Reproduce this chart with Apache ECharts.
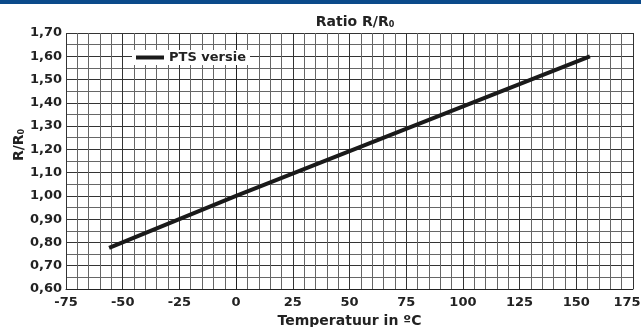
<!DOCTYPE html>
<html>
<head>
<meta charset="utf-8">
<script src="https://cdn.jsdelivr.net/npm/echarts@6/dist/echarts.min.js"></script>
<style>
  html, body { margin: 0; padding: 0; background: #fff; }
  #bar { position: absolute; left: 0; top: 0; width: 641px; height: 4px; background: #0b4a8a; }
  #chart { width: 641px; height: 327px; }
</style>
</head>
<body>
<div id="chart"></div>
<div id="bar"></div>
<script>
// data
const temps = [-56, 0, 156];
const ratios = [0.777, 1.0, 1.6];
const seriesName = 'PTS versie';

const FONT = 'DejaVu Sans';
const fmt = v => v.toFixed(2).replace('.', ',');

const chart = echarts.init(document.getElementById('chart'), null, { renderer: 'canvas' });

chart.setOption({
    animation: false,
    textStyle: { fontFamily: FONT },
    title: {
        text: 'Ratio R/R{s|0}',
        left: 350,
        textAlign: 'center',
        top: 10,
        textStyle: {
            fontFamily: FONT, fontSize: 14, fontWeight: 'bold', color: '#222',
            rich: { s: { fontSize: 8, fontWeight: 'bold', verticalAlign: 'bottom', padding: [6, 0, 0, 0] } }
        }
    },
    legend: {
        left: 132, top: 50,
        padding: [1, 4, 1, 4],
        backgroundColor: '#fff',
        icon: 'rect',
        itemWidth: 28, itemHeight: 4,
        itemGap: 4,
        textStyle: { fontFamily: FONT, fontSize: 13, fontWeight: 'bold', color: '#222' },
        data: [seriesName]
    },
    grid: { left: 66, right: 8, top: 33, bottom: 38, outerBoundsMode: 'none' },
    xAxis: {
        type: 'value',
        min: -75, max: 175, interval: 25,
        name: 'Temperatuur in ºC',
        nameLocation: 'middle',
        nameGap: 23,
        nameTextStyle: { fontFamily: FONT, fontSize: 14, fontWeight: 'bold', color: '#222' },
        axisLine: { lineStyle: { color: '#222', width: 1 } },
        axisTick: { show: false },
        axisLabel: {
            fontFamily: FONT, fontSize: 13, fontWeight: 'bold', color: '#222', margin: 7,
            formatter: v => v === 175 ? '{r|175}' : String(v),
            rich: { r: { fontFamily: FONT, fontSize: 13, fontWeight: 'bold', color: '#222', padding: [0, 12, 0, 0] } }
        },
        splitLine: { lineStyle: { color: '#333', width: 1 } },
        minorTick: { show: false, splitNumber: 5 },
        minorSplitLine: { show: true, lineStyle: { color: '#666', width: 1 } }
    },
    yAxis: {
        type: 'value',
        min: 0.6, max: 1.7, interval: 0.1,
        name: 'R/R{s|0}',
        nameLocation: 'middle',
        nameRotate: 90,
        nameGap: 40,
        nameMoveOverlap: false,
        nameTextStyle: {
            fontFamily: FONT, fontSize: 14, fontWeight: 'bold', color: '#222',
            padding: [0, 0, 0, 32],
            rich: { s: { fontSize: 8, fontWeight: 'bold', verticalAlign: 'bottom', padding: [6, 0, 0, 0] } }
        },
        axisLine: { show: true, lineStyle: { color: '#222', width: 1 } },
        axisTick: { show: false },
        axisLabel: { fontFamily: FONT, fontSize: 13, fontWeight: 'bold', color: '#222', margin: 4, formatter: fmt },
        splitLine: { lineStyle: { color: '#333', width: 1 } },
        minorTick: { show: false, splitNumber: 2 },
        minorSplitLine: { show: true, lineStyle: { color: '#666', width: 1 } }
    },
    series: [{
        name: seriesName,
        type: 'line',
        data: temps.map((t, i) => [t, ratios[i]]),
        showSymbol: false,
        lineStyle: { color: '#1a1a1a', width: 4 },
        itemStyle: { color: '#1a1a1a' }
    }]
});
</script>
</body>
</html>
